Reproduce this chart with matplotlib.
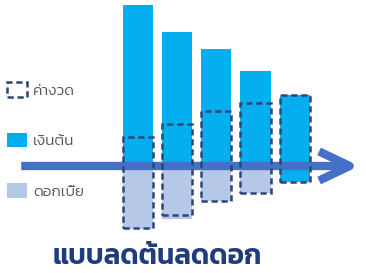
import matplotlib
matplotlib.use("Agg")
import matplotlib.pyplot as plt
from matplotlib.patches import Patch

# bar values (same units as the picture, axis line at 0)
principal = [161, 134, 117, 95, 71]
interest = [63, 53, 35, 27, 16]
inst_top = [29, 42, 55, 63, 71]
inst_bottom = [62, 49, 35, 27, 16]
labels = ["ค่างวด", "เงินต้น", "ดอกเบี้ย"]
title = "แบบลดต้นลดดอก"

cyan = "#05AEEF"
light = "#B6C8E8"
navy = "#2C4677"
arrow_c = "#4470C8"
title_c = "#1F3C7C"
thai = ["Kanit", "DejaVu Sans"]

fig = plt.figure(figsize=(3.66, 2.73), dpi=100)
ax = fig.add_axes([0, 0, 1, 1])
ax.set_xlim(-3.52, 5.82)
ax.set_ylim(-107, 166)
ax.axis("off")

x = list(range(len(principal)))
w = 0.77
ax.bar(x, principal, width=w, color=cyan, zorder=2)
ax.bar(x, [-v for v in interest], width=w,
       color=[light] * 4 + [cyan], zorder=2)

# the time axis arrow
ax.annotate("", xy=(5.72, 0), xytext=(-3.05, 0),
            arrowprops=dict(arrowstyle="->,head_length=2.2,head_width=1.05",
                            lw=6, color=arrow_c, capstyle="butt"),
            zorder=3)

ax.bar(x, [t + b for t, b in zip(inst_top, inst_bottom)],
       bottom=[-b for b in inst_bottom], width=w, fill=False,
       edgecolor=navy, lw=1.8, linestyle=(0, (2.5, 1.5)), zorder=4)

handles = [Patch(facecolor="none", edgecolor=navy, lw=1.8, linestyle=(0, (2.5, 1.5))),
           Patch(facecolor=cyan, edgecolor="none"),
           Patch(facecolor=light, edgecolor="none")]
leg = fig.legend(handles, labels, loc="upper left",
                 bbox_to_anchor=(7 / 366, 1 - 82 / 273),
                 frameon=False, borderpad=0, borderaxespad=0,
                 handlelength=1.3, handleheight=1.1, handletextpad=0.4,
                 labelspacing=2.3, prop={"family": thai, "size": 11, "weight": 300})
for t in leg.get_texts():
    t.set_color("#555555")

fig.text(0.43, 0.06, title, fontsize=20, fontweight=600, color=title_c,
         ha="center", va="center", family=thai)

fig.savefig("out.png", dpi=100)
